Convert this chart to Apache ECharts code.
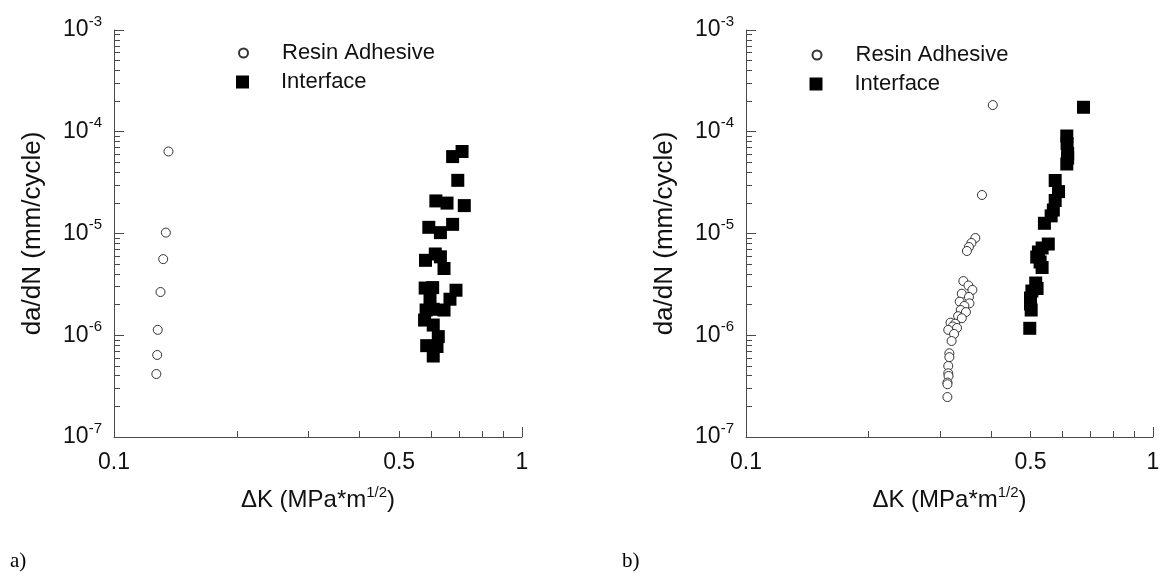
<!DOCTYPE html>
<html>
<head>
<meta charset="utf-8">
<title>da/dN vs dK</title>
<script src="https://cdn.jsdelivr.net/npm/echarts@6/dist/echarts.min.js"></script>
<style>
  html, body { margin: 0; padding: 0; background: #fff; }
  #chart { width: 1168px; height: 579px; }
</style>
</head>
<body>
<div id="chart"></div>
<script>
// panel a) -- [dK (MPa*m^1/2), da/dN (mm/cycle)]
var resinA = [
  [0.136, 6.4e-5], [0.134, 1.02e-5], [0.132, 5.6e-6], [0.130, 2.66e-6],
  [0.128, 1.13e-6], [0.1276, 6.4e-7], [0.127, 4.16e-7]
];
var interfaceA = [
  [0.713, 6.4e-5], [0.676, 5.7e-5], [0.696, 3.33e-5], [0.615, 2.09e-5], [0.655, 1.99e-5],
  [0.722, 1.88e-5], [0.591, 1.15e-5], [0.631, 1.02e-5], [0.676, 1.23e-5], [0.613, 6.29e-6],
  [0.580, 5.45e-6], [0.631, 5.9e-6], [0.644, 4.53e-6], [0.579, 2.91e-6], [0.604, 2.94e-6],
  [0.689, 2.77e-6], [0.666, 2.26e-6], [0.595, 2.31e-6], [0.582, 1.77e-6], [0.644, 1.77e-6],
  [0.606, 1.80e-6], [0.577, 1.41e-6], [0.606, 1.26e-6], [0.6235, 9.7e-7], [0.584, 7.9e-7],
  [0.619, 7.75e-7], [0.606, 6.25e-7]
];
// panel b)
var resinB = [
  [0.404, 1.83e-4], [0.380, 2.39e-5], [0.366, 9.03e-6], [0.358, 8.07e-6], [0.353, 7.37e-6],
  [0.349, 6.73e-6], [0.342, 3.41e-6], [0.352, 3.08e-6], [0.360, 2.79e-6], [0.339, 2.56e-6],
  [0.353, 2.38e-6], [0.335, 2.14e-6], [0.354, 2.06e-6], [0.344, 1.94e-6], [0.337, 1.77e-6],
  [0.347, 1.69e-6], [0.332, 1.54e-6], [0.339, 1.47e-6], [0.318, 1.33e-6], [0.3265, 1.30e-6],
  [0.322, 1.22e-6], [0.330, 1.18e-6], [0.314, 1.13e-6], [0.3245, 1.03e-6], [0.320, 8.78e-7],
  [0.316, 6.65e-7], [0.316, 6.09e-7], [0.314, 4.99e-7], [0.314, 4.23e-7], [0.3145, 3.98e-7],
  [0.3126, 3.43e-7], [0.3126, 3.3e-7], [0.3125, 2.47e-7]
];
var interfaceB = [
  [0.675, 1.74e-4], [0.614, 9.08e-5], [0.615, 7.67e-5], [0.617, 6.11e-5], [0.617, 5.52e-5],
  [0.614, 4.82e-5], [0.575, 3.32e-5], [0.586, 2.58e-5], [0.575, 2.11e-5], [0.569, 1.70e-5],
  [0.562, 1.49e-5], [0.541, 1.26e-5], [0.553, 7.88e-6], [0.534, 7.2e-6], [0.523, 6.58e-6],
  [0.518, 5.87e-6], [0.528, 5.25e-6], [0.534, 4.63e-6], [0.515, 3.26e-6], [0.519, 2.88e-6],
  [0.504, 2.72e-6], [0.500, 2.32e-6], [0.500, 2.03e-6], [0.502, 1.77e-6], [0.498, 1.17e-6]
];

// ticks
var xMajorTicks = [0.1, 1];
var xMinorTicks = [0.2, 0.3, 0.4, 0.5, 0.6, 0.7, 0.8, 0.9];
var xTickLabels = [0.1, 0.5, 1];
var yTickLabels = [1e-7, 1e-6, 1e-5, 1e-4, 1e-3];
var yMinorTicks = [];
for (var d = -7; d < -3; d++) {
  for (var m = 2; m <= 9; m++) yMinorTicks.push(m * Math.pow(10, d));
}

var FONT = 'Liberation Sans';
var axisColor = '#4a4a4a';

function xAxes(gi) {
  return [{
    type: 'log', gridIndex: gi, position: 'bottom', min: 0.1, max: 1,
    axisLine: { onZero: false, lineStyle: { color: axisColor, width: 1 } },
    axisTick: { inside: true, length: 10, customValues: xMajorTicks, lineStyle: { color: axisColor } },
    axisLabel: {
      customValues: xTickLabels, margin: 14, color: '#111', fontSize: 23, fontFamily: FONT,
      formatter: function (v) { return String(+(+v).toPrecision(3)); }
    },
    splitLine: { show: false },
    name: '{a|\u0394K (MPa*m}{s|1/2}{a|)}',
    nameLocation: 'middle', nameGap: 48,
    nameTextStyle: {
      rich: {
        a: { fontSize: 24, fontFamily: FONT, color: '#111', lineHeight: 30 },
        s: { fontSize: 15, fontFamily: FONT, color: '#111', verticalAlign: 'top' }
      }
    }
  }, {
    type: 'log', gridIndex: gi, position: 'bottom', min: 0.1, max: 1,
    axisLine: { show: false },
    axisTick: { inside: true, length: 6, customValues: xMinorTicks, lineStyle: { color: axisColor } },
    axisLabel: { show: false },
    splitLine: { show: false }
  }];
}

function yAxes(gi) {
  return [{
    type: 'log', gridIndex: gi, position: 'left', min: 1e-7, max: 1e-3,
    axisLine: { onZero: false, lineStyle: { color: axisColor, width: 1 } },
    axisTick: { inside: true, length: 10, customValues: yTickLabels, lineStyle: { color: axisColor } },
    axisLabel: {
      customValues: yTickLabels, margin: 12,
      formatter: function (v) {
        return '{b|10}{s|' + Math.round(Math.log10(v)) + '}';
      },
      rich: {
        b: { fontSize: 23, fontFamily: FONT, color: '#111', lineHeight: 32 },
        s: { fontSize: 15, fontFamily: FONT, color: '#111', verticalAlign: 'top' }
      }
    },
    splitLine: { show: false },
    name: 'da/dN (mm/cycle)',
    nameLocation: 'middle', nameGap: 68, nameRotate: 90,
    nameTextStyle: { fontSize: 26, fontFamily: FONT, color: '#111' }
  }, {
    type: 'log', gridIndex: gi, position: 'left', min: 1e-7, max: 1e-3,
    axisLine: { show: false },
    axisTick: { inside: true, length: 6, customValues: yMinorTicks, lineStyle: { color: axisColor } },
    axisLabel: { show: false },
    splitLine: { show: false }
  }];
}

function legends(left, topR, topI) {
  return [{
    data: ['Resin Adhesive'], left: left - 4.5, top: topR, padding: 0,
    itemWidth: 9, itemHeight: 9, selectedMode: false,
    textStyle: { fontSize: 22, fontFamily: FONT, color: '#111', padding: [0, 0, 0, 29] }
  }, {
    data: ['Interface'], left: left - 6.5, top: topI, padding: 0,
    itemWidth: 13, itemHeight: 13, selectedMode: false,
    textStyle: { fontSize: 22, fontFamily: FONT, color: '#111', padding: [0, 0, 0, 27] }
  }];
}

var resinStyle = { color: '#fff', borderColor: '#333', borderWidth: 1, opacity: 1 };
var interfaceStyle = { color: '#000', opacity: 1 };

var option = {
  animation: false,
  backgroundColor: '#fff',
  title: [
    { text: 'a)', left: 10, top: 551, padding: 0,
      textStyle: { fontFamily: 'Liberation Serif', fontSize: 21, fontWeight: 'normal', color: '#000' } },
    { text: 'b)', left: 622, top: 551, padding: 0,
      textStyle: { fontFamily: 'Liberation Serif', fontSize: 21, fontWeight: 'normal', color: '#000' } }
  ],
  grid: [
    { left: 114, top: 30, width: 408, height: 407 },
    { left: 746, top: 30, width: 407, height: 407 }
  ],
  legend: legends(242.5, 42, 71).concat(legends(816, 44, 73)),
  xAxis: xAxes(0).concat(xAxes(1)),
  yAxis: yAxes(0).concat(yAxes(1)),
  series: [
    { name: 'Resin Adhesive', type: 'scatter', xAxisIndex: 0, yAxisIndex: 0,
      symbol: 'circle', symbolSize: 9, itemStyle: resinStyle, data: resinA },
    { name: 'Interface', type: 'scatter', xAxisIndex: 0, yAxisIndex: 0,
      symbol: 'rect', symbolSize: 13, itemStyle: interfaceStyle, data: interfaceA },
    { name: 'Resin Adhesive', type: 'scatter', xAxisIndex: 2, yAxisIndex: 2,
      symbol: 'circle', symbolSize: 9, itemStyle: resinStyle, data: resinB },
    { name: 'Interface', type: 'scatter', xAxisIndex: 2, yAxisIndex: 2,
      symbol: 'rect', symbolSize: 13, itemStyle: interfaceStyle, data: interfaceB }
  ]
};

var chart = echarts.init(document.getElementById('chart'));
chart.setOption(option);
</script>
</body>
</html>
